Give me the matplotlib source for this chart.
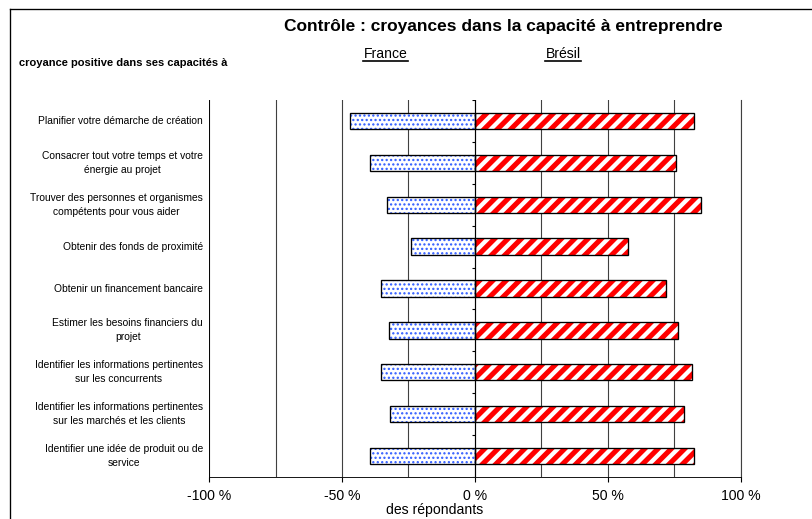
import numpy as np
import matplotlib
matplotlib.use('Agg')
import matplotlib.pyplot as plt
import matplotlib.ticker as ticker
import matplotlib.transforms as mtransforms
from matplotlib.lines import Line2D

plt.rcParams['font.family'] = ['Liberation Sans', 'DejaVu Sans']

# data (% of respondents)
categories = [
    'Planifier votre démarche de création',
    'Consacrer tout votre temps et votre\nénergie au projet',
    'Trouver des personnes et organismes\ncompétents pour vous aider',
    'Obtenir des fonds de proximité',
    'Obtenir un financement bancaire',
    'Estimer les besoins financiers du\nprojet',
    'Identifier les informations pertinentes\nsur les concurrents',
    'Identifier les informations pertinentes\nsur les marchés et les clients',
    'Identifier une idée de produit ou de\nservice',
]
france = [47, 39.5, 33, 24, 35.5, 32.5, 35.5, 32, 39.5]
bresil = [82.3, 75.6, 85, 57.6, 71.7, 76.5, 81.5, 78.5, 82.3]
xticks = [-100, -50, 0, 50, 100]

W, H, DPI = 812, 519, 80


def fx(px):
    return px / W


def fy(py):
    return 1 - py / H


fig = plt.figure(figsize=(W / DPI, H / DPI), dpi=DPI)
ax = fig.add_axes([fx(209), fy(477), fx(741) - fx(209), fy(100) - fy(477)])

y = np.arange(len(categories))
h = 0.39
neg = -np.array(france)

# France : blue dots
with plt.rc_context({'hatch.linewidth': 1.3}):
    ax.barh(y, neg, height=h, color='white', edgecolor='#2f5cff', hatch='...',
            linewidth=0, zorder=2)
ax.barh(y, neg, height=h, fill=False, edgecolor='black', linewidth=1.2, zorder=3)
# Brazil : red stripes
with plt.rc_context({'hatch.linewidth': 4.6}):
    ax.barh(y, bresil, height=h, color='white', edgecolor='#ff0000', hatch='//',
            linewidth=0, zorder=2)
ax.barh(y, bresil, height=h, fill=False, edgecolor='black', linewidth=1.2, zorder=3)

ax.set_xlim(-100, 100)
ax.set_ylim(len(categories) - 0.5, -0.5)

# zero axis with its small category ticks
ax.axvline(0, color='black', linewidth=1, zorder=4)
ax.axvline(100, color='#404040', linewidth=1, clip_on=False, zorder=1)
ax.hlines(np.arange(-0.5, len(categories)), -1.2, 0, color='black', linewidth=1, zorder=4)

ax.xaxis.set_major_locator(ticker.FixedLocator(xticks))
ax.xaxis.set_minor_locator(ticker.MultipleLocator(25))
ax.xaxis.set_major_formatter(ticker.FuncFormatter(lambda v, p: '%d %%' % v))
ax.grid(True, which='both', axis='x', color='#404040', linewidth=1)
ax.set_axisbelow(True)
ax.tick_params(axis='x', which='major', length=4.5, width=1, pad=6, labelsize=12.6)
ax.tick_params(axis='x', which='minor', length=0)
ax.set_yticks([])
ax.spines['top'].set_visible(False)
ax.spines['right'].set_visible(False)

# category labels, right aligned block, centered lines
lab_tr = mtransforms.blended_transform_factory(fig.transFigure, ax.transData)
for yi, lab in zip(y, categories):
    ax.text(fx(203), yi, lab, transform=lab_tr, ha='right', va='center',
            multialignment='center', fontsize=9.2, linespacing=1.5)

fig.text(fx(503.5), fy(30.7), 'Contrôle : croyances dans la capacité à entreprendre',
         ha='center', va='baseline', fontsize=15.6, fontweight='bold')
fig.text(fx(19), fy(66.5), 'croyance positive dans ses capacités à',
         ha='left', va='baseline', fontsize=10, fontweight='bold')
fig.text(fx(435), fy(514), 'des répondants', ha='center', va='baseline', fontsize=12.6)

# column headers, underlined
for cx, name, x0, x1 in [(385.5, 'France', 363, 408), (563, 'Brésil', 545, 581)]:
    fig.text(fx(cx), fy(58), name, ha='center', va='baseline', fontsize=12.6)
    fig.add_artist(Line2D([fx(x0), fx(x1)], [fy(61), fy(61)], color='black',
                          linewidth=1.5, transform=fig.transFigure))

# outer chart frame (only top and left visible in the crop)
fig.add_artist(Line2D([fx(10), 1], [fy(9), fy(9)], color='black', linewidth=1.2,
                      transform=fig.transFigure))
fig.add_artist(Line2D([fx(10), fx(10)], [fy(9), 0], color='black', linewidth=1.2,
                      transform=fig.transFigure))

fig.savefig('out.png', dpi=DPI)
